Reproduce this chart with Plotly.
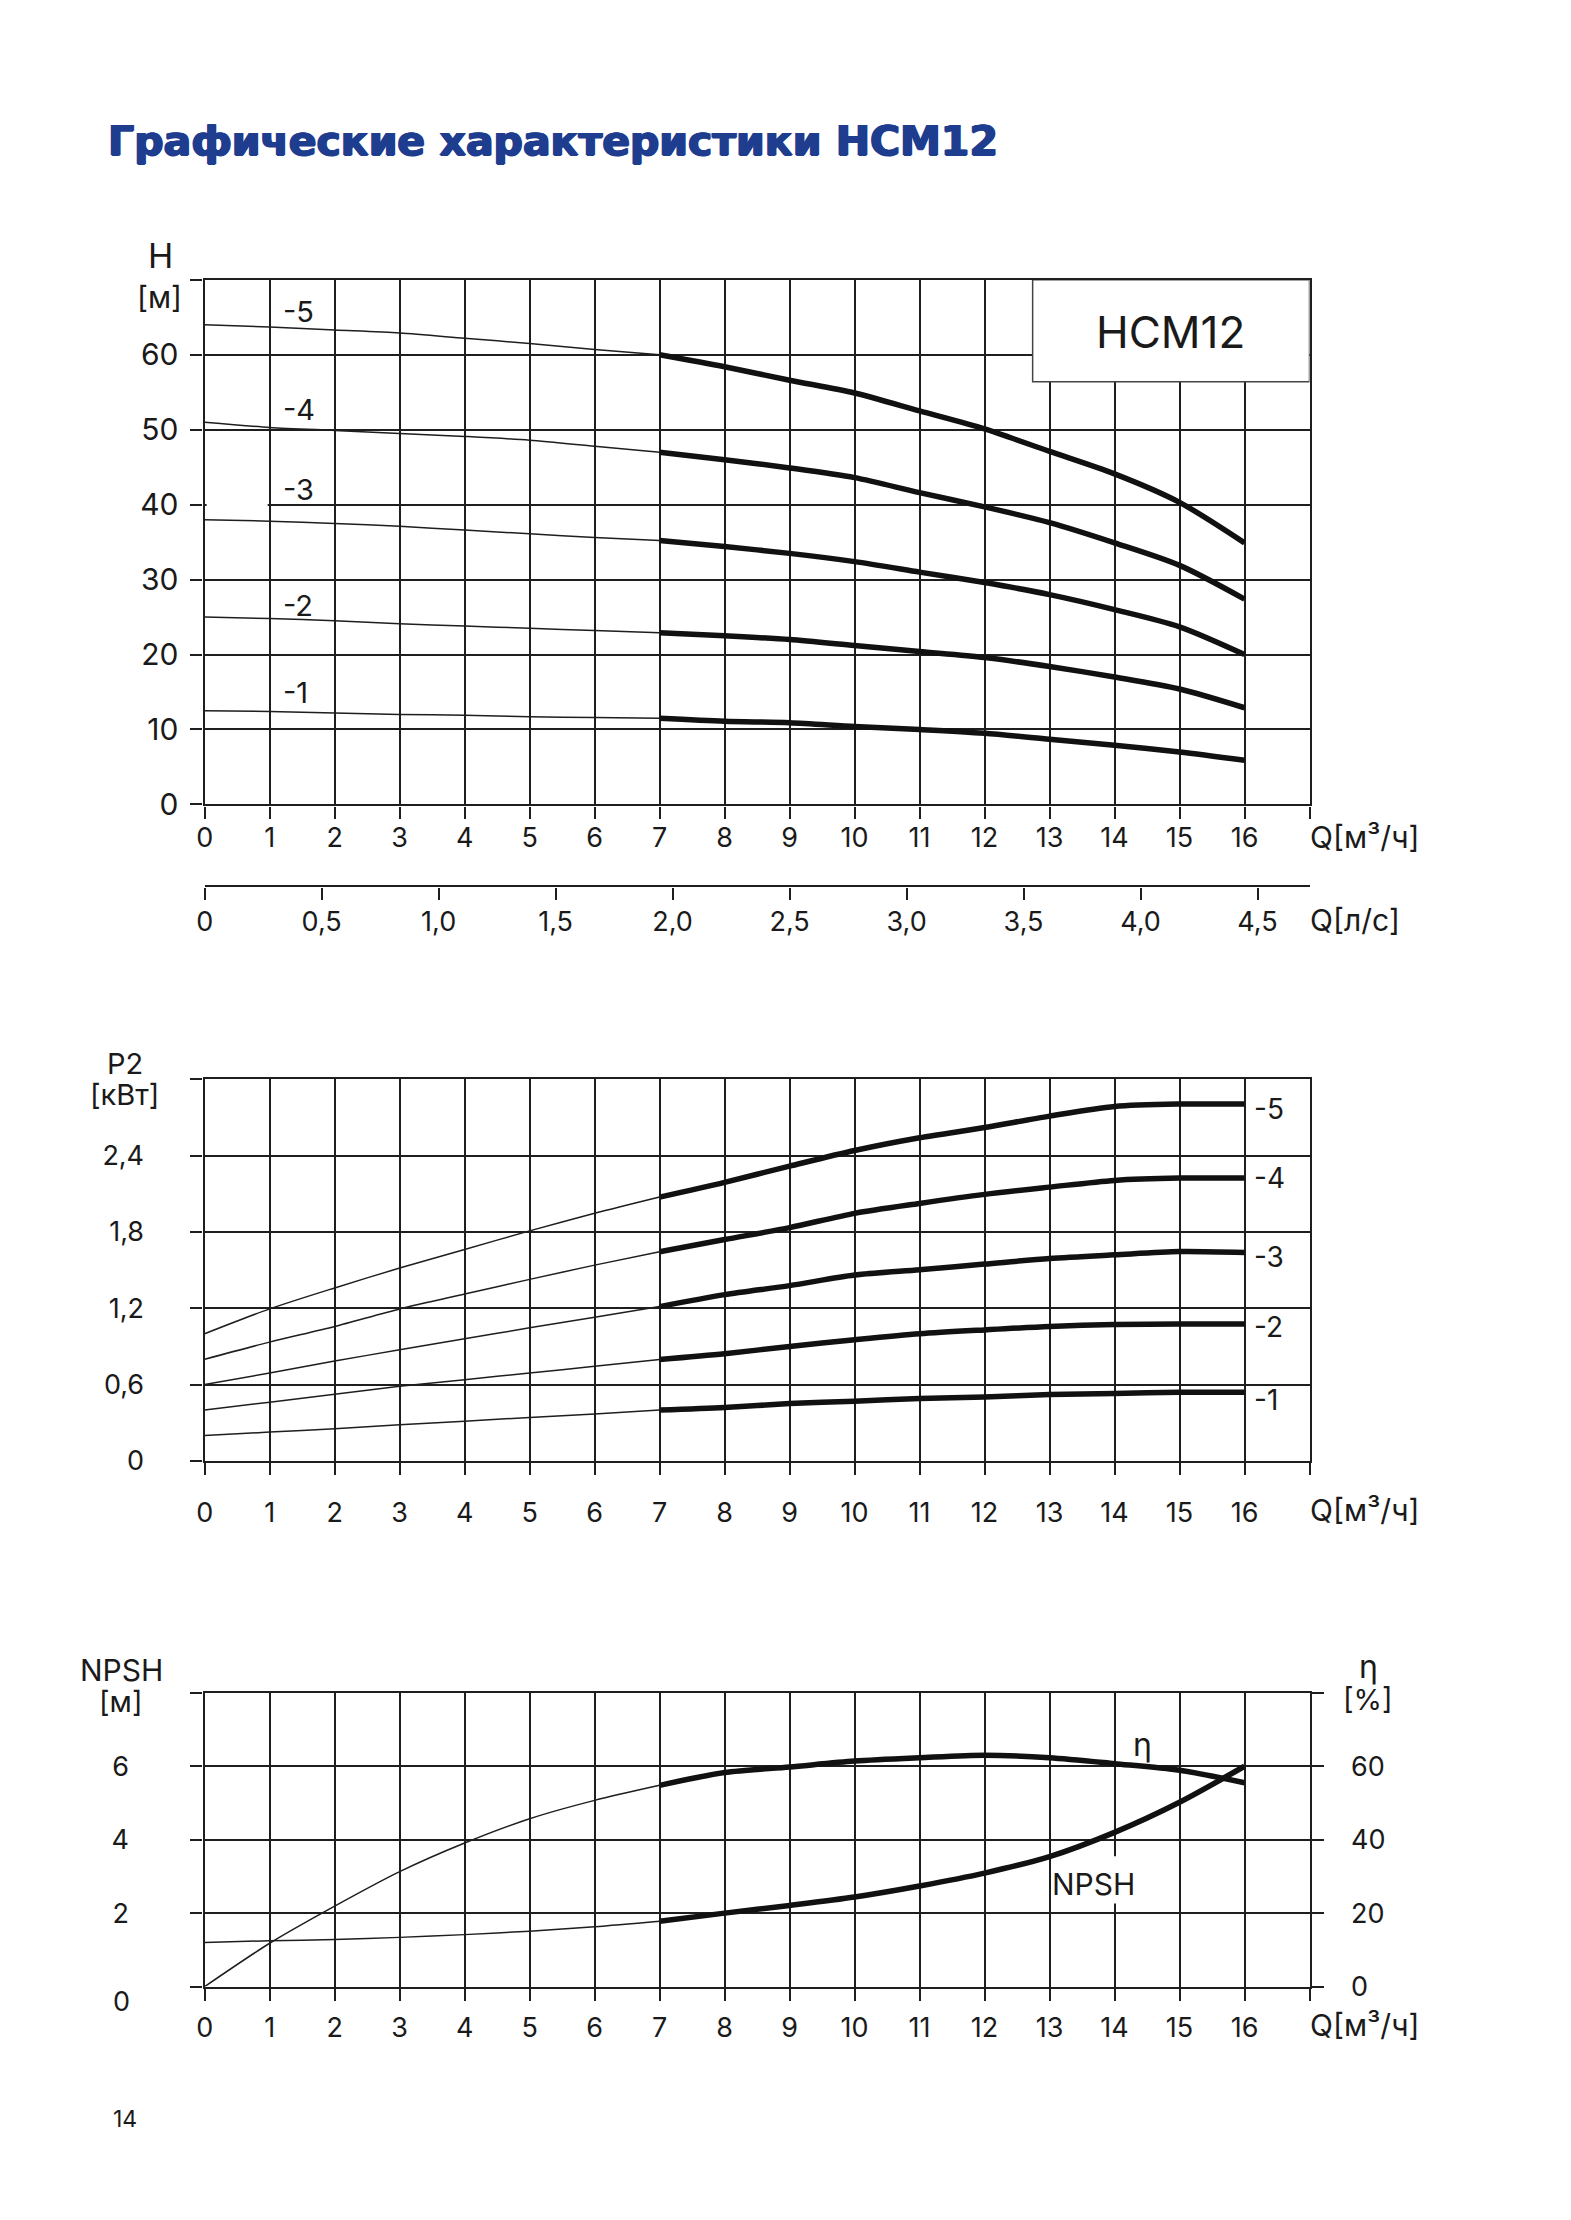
import plotly.graph_objects as go

W, H = 1571, 2220

# ---------------- data ----------------
# flow axis (m3/h)
Q_thin = [0, 1, 2, 3, 4, 5, 6, 7]
Q_thick = [7, 8, 9, 10, 11, 12, 13, 14, 15, 16]
Q_ticks = list(range(0, 18))
Q_ticktext = [str(i) for i in range(17)] + [""]

# Chart 1: head H [m] per stage count
H5_thin = [64.0, 63.7, 63.3, 62.9, 62.2, 61.5, 60.7, 60.0]
H5_thick = [60.0, 58.4, 56.6, 54.9, 52.5, 50.1, 47.1, 44.1, 40.3, 34.9]
H4_thin = [51.0, 50.3, 49.9, 49.5, 49.1, 48.6, 47.8, 47.0]
H4_thick = [47.0, 46.0, 44.9, 43.6, 41.6, 39.7, 37.6, 34.9, 31.9, 27.4]
H3_thin = [38.0, 37.8, 37.5, 37.1, 36.6, 36.1, 35.6, 35.2]
H3_thick = [35.2, 34.4, 33.5, 32.4, 31.0, 29.6, 28.0, 26.0, 23.7, 20.0]
H2_thin = [25.0, 24.8, 24.5, 24.1, 23.8, 23.5, 23.2, 22.9]
H2_thick = [22.9, 22.5, 22.0, 21.2, 20.4, 19.6, 18.4, 17.0, 15.4, 12.9]
H1_thin = [12.5, 12.4, 12.2, 12.0, 11.9, 11.7, 11.6, 11.5]
H1_thick = [11.5, 11.1, 10.9, 10.4, 10.0, 9.5, 8.7, 7.9, 7.0, 5.9]
H_ticks = [0, 10, 20, 30, 40, 50, 60, 70]
H_ticktext = ["0", "10", "20", "30", "40", "50", "60", ""]
H_labels = ["-5", "-4", "-3", "-2", "-1"]
H_label_y = [65.8, 52.7, 42.0, 26.6, 14.9]

# secondary flow axis (l/s)
LS_ticks = [0, 0.5, 1.0, 1.5, 2.0, 2.5, 3.0, 3.5, 4.0, 4.5]
LS_ticktext = ["0", "0,5", "1,0", "1,5", "2,0", "2,5", "3,0", "3,5", "4,0", "4,5"]

# Chart 2: power P2 [kW]
P5_thin = [1.00, 1.195, 1.36, 1.516, 1.662, 1.808, 1.946, 2.074]
P5_thick = [2.074, 2.19, 2.317, 2.44, 2.54, 2.62, 2.71, 2.786, 2.805, 2.805]
P4_thin = [0.80, 0.934, 1.057, 1.195, 1.312, 1.427, 1.539, 1.644]
P4_thick = [1.644, 1.74, 1.834, 1.946, 2.024, 2.095, 2.152, 2.205, 2.223, 2.223]
P3_thin = [0.60, 0.691, 0.785, 0.874, 0.96, 1.046, 1.13, 1.213]
P3_thick = [1.213, 1.307, 1.378, 1.461, 1.503, 1.547, 1.591, 1.62, 1.646, 1.638]
P2_thin = [0.40, 0.462, 0.524, 0.587, 0.639, 0.691, 0.744, 0.798]
P2_thick = [0.798, 0.843, 0.90, 0.952, 0.999, 1.03, 1.057, 1.072, 1.077, 1.077]
P1_thin = [0.20, 0.227, 0.253, 0.284, 0.313, 0.342, 0.37, 0.40]
P1_thick = [0.40, 0.42, 0.451, 0.47, 0.49, 0.503, 0.522, 0.53, 0.54, 0.54]
P_ticks = [0, 0.6, 1.2, 1.8, 2.4, 3.0]
P_ticktext = ["0", "0,6", "1,2", "1,8", "2,4", ""]
P_labels = ["-5", "-4", "-3", "-2", "-1"]
P_label_y = [2.77, 2.225, 1.6, 1.05, 0.477]

# Chart 3: NPSH [m] and efficiency [%]
NPSH_thin = [1.2, 1.25, 1.28, 1.34, 1.415, 1.51, 1.63, 1.78]
NPSH_thick = [1.78, 2.0, 2.21, 2.44, 2.74, 3.09, 3.54, 4.2, 5.02, 6.0]
ETA_thin = [0, 11.8, 21.9, 31.3, 39.1, 45.7, 50.7, 54.8]
ETA_thick = [54.8, 58.3, 59.8, 61.4, 62.3, 63.0, 62.3, 60.7, 58.9, 55.5]
NPSH_ticks = [0, 2, 4, 6, 8]
NPSH_ticktext = ["", "2", "4", "6", ""]
ETA_ticks = [0, 20, 40, 60, 80]
ETA_ticktext = ["0", "20", "40", "60", ""]

# ---------------- style ----------------
LC = "#1e1e1e"
TXT = "#1a1a1a"
FAM = "Inter"
TICKFONT = dict(family=FAM, size=27, color=TXT)
THIN = 1.5
THICK = 5.5
GW = 2.4


def px_x(x):
    return 1308 - (1308 - x) * 1.0047


def px_y(y):
    return y * 1.007


def fx(p):
    return px_x(p) / W


def fy(p):
    return 1 - px_y(p) / H


X0, X1 = 202, 1308
D1 = [fy(805), fy(280)]
D2 = [fy(1462), fy(1080)]
D3 = [fy(1988), fy(1694)]

fig = go.Figure()


def add_curve(xa, ya, x_thin, y_thin, x_thick, y_thick):
    fig.add_trace(go.Scatter(x=x_thin, y=y_thin, mode="lines", xaxis=xa, yaxis=ya,
                             line=dict(color=LC, width=THIN, shape="spline", smoothing=0.8),
                             hoverinfo="skip", showlegend=False))
    fig.add_trace(go.Scatter(x=x_thick, y=y_thick, mode="lines", xaxis=xa, yaxis=ya,
                             line=dict(color="#111111", width=THICK, shape="spline", smoothing=0.8),
                             hoverinfo="skip", showlegend=False))


for t, k in [(H5_thin, H5_thick), (H4_thin, H4_thick), (H3_thin, H3_thick),
             (H2_thin, H2_thick), (H1_thin, H1_thick)]:
    add_curve("x", "y", Q_thin, t, Q_thick, k)

# invisible trace that activates the l/s axis
fig.add_trace(go.Scatter(x=LS_ticks, y=[None] * len(LS_ticks), xaxis="x4", yaxis="y",
                         mode="markers", marker=dict(opacity=0), hoverinfo="skip",
                         showlegend=False))

for t, k in [(P5_thin, P5_thick), (P4_thin, P4_thick), (P3_thin, P3_thick),
             (P2_thin, P2_thick), (P1_thin, P1_thick)]:
    add_curve("x2", "y2", Q_thin, t, Q_thick, k)

add_curve("x3", "y3", Q_thin, NPSH_thin, Q_thick, NPSH_thick)
add_curve("x3", "y4", Q_thin, ETA_thin, Q_thick, ETA_thick)

common = dict(showgrid=True, gridcolor=LC, gridwidth=GW, showline=True, linecolor=LC,
              linewidth=GW, mirror=True, ticks="outside", ticklen=12, tickwidth=GW,
              tickcolor=LC, zeroline=False, tickfont=TICKFONT, fixedrange=True)

xcommon = dict(common, range=[0, 17], tickmode="array", tickvals=Q_ticks,
               ticktext=Q_ticktext, domain=[fx(X0), fx(X1)])

fig.update_layout(
    width=W, height=H,
    margin=dict(l=0, r=0, t=0, b=0),
    paper_bgcolor="white", plot_bgcolor="white",
    showlegend=False,
    xaxis=dict(xcommon, anchor="y", ticklabelstandoff=-4),
    yaxis=dict(common, domain=D1, anchor="x", range=[0, 70], tickmode="array",
               tickvals=H_ticks, ticktext=H_ticktext, ticklabelstandoff=6,
               tickfont=dict(family=FAM, size=30, color=TXT)),
    xaxis4=dict(range=[0, 17 / 3.6], overlaying="x", anchor="free", position=fy(887),
                side="bottom", showgrid=False, showline=True, linecolor=LC, linewidth=GW,
                ticks="outside", ticklen=12, tickwidth=GW, tickcolor=LC, zeroline=False,
                tickmode="array", tickvals=LS_ticks, ticktext=LS_ticktext,
                tickfont=TICKFONT, ticklabelstandoff=-1, fixedrange=True),
    xaxis2=dict(xcommon, anchor="y2", ticklabelstandoff=14),
    yaxis2=dict(common, domain=D2, anchor="x2", range=[0, 3.0], tickmode="array",
                tickvals=P_ticks, ticktext=P_ticktext, ticklabelstandoff=41),
    xaxis3=dict(xcommon, anchor="y3", ticklabelstandoff=4),
    yaxis3=dict(common, domain=D3, anchor="x3", range=[0, 8], tickmode="array",
                tickvals=NPSH_ticks, ticktext=NPSH_ticktext, ticklabelstandoff=56),
    yaxis4=dict(common, overlaying="y3", side="right", anchor="x3", range=[0, 80],
                showgrid=False, tickmode="array", tickvals=ETA_ticks,
                ticktext=ETA_ticktext, ticklabelstandoff=22),
)

ann = []


def pa(text, x, y, size=28, family=FAM, xanchor="center", yanchor="middle", **kw):
    font = dict(family=family, size=size, color=kw.pop("color", TXT),
                weight=kw.pop("weight", "normal"))
    if "shadow" in kw:
        font["shadow"] = kw.pop("shadow")
    ann.append(dict(text=text, x=fx(x), y=fy(y), xref="paper", yref="paper",
                    showarrow=False, xanchor=xanchor, yanchor=yanchor,
                    font=font, **kw))


# title
TC = "#1e3d8f"
pa("Графические характеристики НСМ12", 103, 141, size=41, family="DejaVu Sans",
   xanchor="left", color=TC, weight="bold",
   shadow=f"1px 0 0 {TC}, -1px 0 0 {TC}, 0 1px 0 {TC}, 0 -0.5px 0 {TC}")

# chart 1 texts
pa("H", 158, 256, size=34)
pa("[м]", 157, 297, size=30)
pa("Q[м³/ч]", 1306, 838, size=30, xanchor="left")
pa("Q[л/с]", 1306, 921, size=30, xanchor="left")

for lab, yv in zip(H_labels, H_label_y):
    ann.append(dict(text=lab, x=1.17, y=yv, xref="x", yref="y", showarrow=False,
                    xanchor="left", yanchor="middle",
                    font=dict(family=FAM, size=29, color=TXT)))

ann.append(dict(text="НСМ12", x=14.86, y=63.0, xref="x", yref="y", showarrow=False,
                xanchor="center", yanchor="middle",
                font=dict(family=FAM, size=44, color=TXT)))

# chart 2 texts
pa("P2", 122, 1064, size=29)
pa("[кВт]", 122, 1095, size=29)
pa("Q[м³/ч]", 1306, 1511, size=30, xanchor="left")
for lab, yv in zip(P_labels, P_label_y):
    ann.append(dict(text=lab, x=16.12, y=yv, xref="x2", yref="y2", showarrow=False,
                    xanchor="left", yanchor="middle",
                    font=dict(family=FAM, size=28, color=TXT)))

# chart 3 texts
pa("NPSH", 119, 1671, size=30)
pa("[м]", 118, 1703, size=29)
pa("η", 1367, 1668, size=32)
pa("[%]", 1367, 1701, size=29)
pa("Q[м³/ч]", 1306, 2026, size=30, xanchor="left")
pa("0", 119, 2003, size=27)  # lowered zero label of the NPSH axis
ann.append(dict(text="η", x=14.43, y=6.6, xref="x3", yref="y3", showarrow=False,
                xanchor="center", yanchor="middle",
                font=dict(family=FAM, size=32, color=TXT)))
ann.append(dict(text="NPSH", x=13.68, y=2.8, xref="x3", yref="y3", showarrow=False,
                xanchor="center", yanchor="middle",
                font=dict(family=FAM, size=30, color=TXT)))

# page number
pa("14", 122, 2121, size=23)

fig.update_layout(annotations=ann)

shapes = [
    # model box
    dict(type="rect", xref="x", yref="y", x0=12.74, x1=17, y0=56.4, y1=70,
         fillcolor="white", line=dict(color="#444444", width=1.5), layer="between"),
    # gap in the 40 m gridline
    dict(type="line", xref="x", yref="y", x0=0.03, x1=0.97, y0=40, y1=40,
         line=dict(color="white", width=5), layer="between"),
    # white patch behind NPSH label
    dict(type="rect", xref="x3", yref="y3", x0=13.06, x1=14.33, y0=2.26, y1=3.55,
         fillcolor="white", line=dict(width=0), layer="between"),
]
fig.update_layout(shapes=shapes)

fig.write_html("out.html")
